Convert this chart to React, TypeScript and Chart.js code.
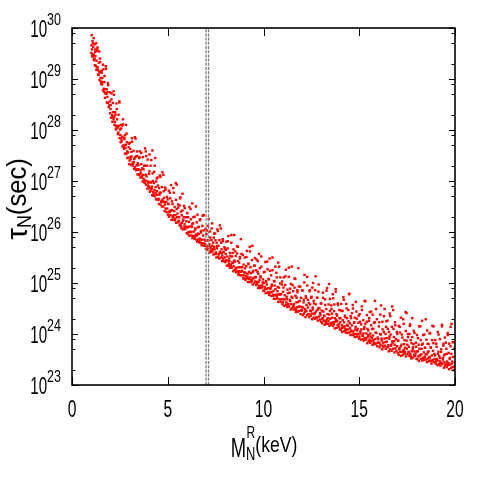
import React, { useEffect, useRef } from "react";
import { Chart, registerables } from "chart.js";

Chart.register(...registerables);

// ---- data: [M_N^R (keV), log10 tau_N (sec)] ----
const pointsSteep: [number, number][] = [
  [1.03,29.86],[1.07,29.74],[1.13,29.8],[1.18,29.68],[1.26,29.7],[1.33,29.62],[1.21,29.58],[1.46,29.4],
  [1.01,29.51],[1.04,29.58],[1.06,29.44],[1.09,29.45],[1.11,29.63],[1.14,29.37],[1.17,29.39],[1.19,29.27],[1.22,29.45],[1.24,29.26],
  [1.27,29.18],[1.29,29.55],[1.32,29.19],[1.34,29.23],[1.37,29.08],[1.39,29.09],[1.42,29.54],[1.44,28.98],[1.47,29.14],[1.49,29.02],
  [1.52,28.91],[1.54,29.16],[1.57,28.89],[1.59,28.94],[1.62,28.78],[1.64,29.19],[1.67,28.75],[1.69,28.94],[1.72,28.63],[1.74,28.72],
  [1.77,29.2],[1.79,28.71],[1.82,28.54],[1.84,28.74],[1.87,28.53],[1.89,28.88],[1.92,28.45],[1.94,28.48],[1.97,28.56],[1.99,28.33],
  [2.01,28.41],[2.04,28.24],[2.06,28.6],[2.09,28.25],[2.11,28.16],[2.14,28.35],[2.17,28.21],[2.19,28.69],[2.22,28.1],[2.24,28.16],
  [2.27,28.3],[2.29,28.01],[2.32,28.03],[2.34,28.41],[2.37,28.08],[2.39,27.92],[2.42,27.95],[2.44,28.08],[2.47,28.54],[2.49,27.84],
  [2.52,27.9],[2.54,27.76],[2.57,28.03],[2.59,27.78],[2.62,27.87],[2.64,27.68],[2.67,28.11],[2.69,27.7],[2.72,27.63],[2.74,27.82],
  [2.77,27.54],[2.79,27.65],[2.82,28.1],[2.84,27.53],[2.87,27.76],[2.89,27.45],[2.92,27.56],[2.94,27.46],[2.97,27.73],[2.99,27.33],
];

const pointsSteepUpper: [number, number][] = [
  [1.02,29.66],[1.06,29.48],[1.1,29.7],[1.13,29.48],[1.17,29.4],[1.21,29.53],[1.25,29.25],[1.28,29.36],[1.32,29.58],[1.36,29.17],
  [1.4,29.32],[1.43,29.14],[1.47,29.33],[1.51,28.95],[1.55,29.12],[1.58,29.02],[1.62,29.28],[1.66,28.81],[1.7,29.06],[1.73,28.8],
  [1.77,29.25],[1.81,28.8],[1.85,28.65],[1.88,28.92],[1.96,28.74],
  [2.02,28.49],[2.06,28.72],[2.1,28.29],[2.13,28.53],[2.17,28.76],[2.21,28.26],[2.25,28.35],[2.28,28.08],[2.32,28.52],[2.36,28.21],
  [2.4,28.05],[2.43,28.3],[2.47,28.56],[2.51,28.01],[2.55,28.1],[2.58,27.83],[2.62,28.09],[2.66,28.21],[2.7,27.66],[2.73,27.85],
  [2.77,27.9],[2.81,27.71],[2.85,27.93],[2.88,27.58],[2.96,27.66],
  [3.02,27.75],[3.06,27.47],[3.1,27.57],[3.13,27.84],[3.17,27.36],[3.21,27.59],[3.25,27.43],[3.28,27.86],[3.32,27.48],[3.36,27.23],
  [3.4,27.58],[3.43,27.35],[3.47,27.23],[3.51,27.45],[3.55,27.58],[3.58,27.21],[3.62,27.33],[3.66,27.1],[3.7,27.47],[3.73,27.23],
  [3.77,26.99],[3.81,27.3],[3.85,27.12],[3.88,27.49],[3.96,26.99],
  [4.02,27.14],[4.06,26.86],[4.1,27.3],[4.13,26.97],[4.17,26.89],[4.21,27.15],[4.25,26.74],[4.28,26.96],[4.32,27.3],[4.36,26.76],
  [4.4,26.99],[4.43,26.8],[4.47,27.07],[4.51,26.63],[4.55,26.86],[4.58,26.77],[4.62,27.08],[4.66,26.59],[4.7,26.88],[4.73,26.64],
  [4.77,27.12],[4.81,26.67],[4.85,26.54],[4.88,26.83],[4.96,26.69],
  [5.02,26.55],[5.06,26.81],[5.1,26.41],[5.13,26.66],[5.17,26.92],[5.21,26.43],[5.25,26.55],[5.28,26.29],[5.32,26.77],[5.36,26.49],
  [5.4,26.33],[5.43,26.63],[5.47,26.93],[5.51,26.36],[5.55,26.48],[5.58,26.22],[5.62,26.52],[5.66,26.68],[5.7,26.11],[5.73,26.33],
  [5.77,26.42],[5.81,26.24],[5.85,26.51],[5.88,26.15],[5.96,26.29],
  [6.02,26.37],[6.06,26.09],[6.1,26.2],[6.13,26.49],[6.17,26.0],[6.21,26.25],[6.25,26.1],[6.28,26.56],[6.32,26.17],[6.36,25.92],
  [6.4,26.3],[6.43,26.07],[6.47,25.95],[6.51,26.19],[6.55,26.34],[6.58,25.97],[6.62,26.1],[6.66,25.87],[6.7,26.25],[6.73,26.02],
  [6.77,25.78],[6.81,26.12],[6.85,25.93],[6.88,26.33],[6.96,25.83],
];

const pointsKnee: [number, number][] = [
  [3.85,27.58],[4.05,27.52],[4.2,27.6],[4.35,27.45],[3.95,27.42],
  [3.01,27.4],[3.04,27.63],[3.06,27.43],[3.09,27.32],[3.11,27.48],[3.14,27.77],[3.17,27.3],[3.19,27.34],[3.22,27.37],[3.24,27.24],
  [3.27,27.45],[3.29,27.27],[3.32,27.83],[3.34,27.21],[3.37,27.31],[3.39,27.49],[3.42,27.13],[3.44,27.22],[3.47,27.31],[3.49,27.12],
  [3.52,27.47],[3.54,27.13],[3.57,27.07],[3.59,27.16],[3.62,27.55],[3.64,27.07],[3.67,27.25],[3.69,26.99],[3.72,27.12],[3.74,27.04],
  [3.77,27.3],[3.79,26.96],[3.82,27.64],[3.84,27.01],[3.87,26.93],[3.89,27.09],[3.92,27.3],[3.94,26.85],[3.97,26.91],[3.99,26.96],
  [4.01,26.89],[4.04,27.19],[4.06,26.79],[4.09,26.98],[4.11,26.81],[4.14,27.41],[4.17,26.85],[4.19,26.72],[4.22,27.0],[4.24,26.79],
  [4.27,26.71],[4.29,27.18],[4.32,26.82],[4.34,26.7],[4.37,26.88],[4.39,26.64],[4.42,27.05],[4.44,26.73],[4.47,26.64],[4.49,26.91],
  [4.52,26.65],[4.54,26.55],[4.57,26.73],[4.59,27.11],[4.62,26.54],[4.64,26.77],[4.67,26.6],[4.69,26.5],[4.72,27.17],[4.74,26.6],
  [4.77,26.5],[4.79,26.8],[4.82,26.59],[4.84,26.41],[4.87,26.87],[4.89,26.46],[4.92,26.59],[4.94,26.39],[4.97,26.46],[4.99,26.64],
  [5.01,26.34],[5.04,26.55],[5.06,26.3],[5.09,26.39],[5.11,26.77],[5.14,26.33],[5.17,26.42],[5.19,26.24],[5.22,26.6],[5.24,26.31],
  [5.27,26.24],[5.29,26.86],[5.32,26.33],[5.34,26.41],[5.37,26.23],[5.39,26.26],[5.42,26.96],[5.44,26.18],[5.47,26.45],[5.49,26.29],
  [5.52,26.19],[5.54,26.54],[5.57,26.21],[5.59,26.29],[5.62,26.13],[5.64,26.66],[5.67,26.16],[5.69,26.4],[5.72,26.07],[5.74,26.18],
  [5.77,26.75],[5.79,26.22],[5.82,26.05],[5.84,26.29],[5.87,26.1],[5.89,26.47],[5.92,26.06],[5.94,26.1],[5.97,26.21],[5.99,25.98],
  [6.01,26.1],[6.04,25.97],[6.06,26.29],[6.09,26.0],[6.11,25.93],[6.14,26.11],[6.17,26.0],[6.19,26.45],[6.22,25.93],[6.24,26.0],
  [6.27,26.15],[6.29,25.88],[6.32,25.92],[6.34,26.29],[6.37,26.01],[6.39,25.87],[6.42,25.91],[6.44,26.05],[6.47,26.5],[6.49,25.85],
  [6.52,25.93],[6.54,25.81],[6.57,26.09],[6.59,25.85],[6.62,25.96],[6.64,25.8],[6.67,26.23],[6.69,25.85],[6.72,25.79],[6.74,25.99],
  [6.77,25.74],[6.79,25.85],[6.82,26.32],[6.84,25.78],[6.87,26.03],[6.89,25.73],[6.92,25.85],[6.94,25.77],[6.97,26.06],[6.99,25.67],
];

const pointsMid: [number, number][] = [
  [7.01,25.73],[7.04,26.03],[7.06,25.65],[7.09,25.84],[7.11,25.67],[7.14,26.26],[7.17,25.73],[7.19,25.6],[7.22,25.89],[7.24,25.69],
  [7.27,25.61],[7.29,26.07],[7.32,25.73],[7.34,25.62],[7.37,25.79],[7.39,25.56],[7.42,25.97],[7.44,25.66],[7.47,25.57],[7.49,25.84],
  [7.52,25.6],[7.54,25.5],[7.57,25.68],[7.59,26.05],[7.62,25.51],[7.64,25.73],[7.67,25.57],[7.69,25.48],[7.72,26.13],[7.74,25.59],
  [7.77,25.5],[7.79,25.79],[7.82,25.59],[7.84,25.43],[7.87,25.86],[7.89,25.48],[7.92,25.61],[7.94,25.43],[7.97,25.5],[7.99,25.67],
  [8.01,25.41],[8.04,25.65],[8.06,25.45],[8.09,25.34],[8.11,25.52],[8.14,25.82],[8.17,25.34],[8.19,25.38],[8.22,25.43],[8.24,25.3],
  [8.27,25.53],[8.29,25.34],[8.32,25.94],[8.34,25.3],[8.37,25.4],[8.39,25.59],[8.42,25.23],[8.44,25.33],[8.47,25.44],[8.49,25.25],
  [8.52,25.62],[8.54,25.28],[8.57,25.21],[8.59,25.3],[8.62,25.72],[8.64,25.23],[8.67,25.43],[8.69,25.16],[8.72,25.31],[8.74,25.23],
  [8.77,25.51],[8.79,25.15],[8.82,25.86],[8.84,25.22],[8.87,25.15],[8.89,25.31],[8.92,25.55],[8.94,25.09],[8.97,25.15],[8.99,25.21],
  [9.01,25.09],[9.04,25.29],[9.06,25.06],[9.09,25.14],[9.11,25.51],[9.14,25.09],[9.17,25.18],[9.19,25.02],[9.22,25.37],[9.24,25.08],
  [9.27,25.02],[9.29,25.62],[9.32,25.11],[9.34,25.19],[9.37,25.02],[9.39,25.06],[9.42,25.73],[9.44,24.97],[9.47,25.24],[9.49,25.1],
  [9.52,25.0],[9.54,25.34],[9.57,25.03],[9.59,25.11],[9.62,24.96],[9.64,25.46],[9.67,24.98],[9.69,25.22],[9.72,24.9],[9.74,25.02],
  [9.77,25.57],[9.79,25.06],[9.82,24.9],[9.84,25.13],[9.87,24.95],[9.89,25.32],[9.92,24.91],[9.94,24.95],[9.97,25.07],[9.99,24.85],
  [10.01,25.0],[10.04,24.85],[10.06,25.22],[10.09,24.89],[10.11,24.8],[10.14,25.02],[10.17,24.88],[10.19,25.42],[10.22,24.81],[10.24,24.9],
  [10.27,25.08],[10.29,24.77],[10.32,24.81],[10.34,25.24],[10.37,24.91],[10.39,24.75],[10.42,24.82],[10.44,24.97],[10.47,25.5],[10.49,24.75],
  [10.52,24.84],[10.54,24.69],[10.57,25.03],[10.59,24.76],[10.62,24.88],[10.64,24.69],[10.67,25.2],[10.69,24.75],[10.72,24.7],[10.74,24.92],
  [10.77,24.63],[10.79,24.78],[10.82,25.32],[10.84,24.68],[10.87,24.99],[10.89,24.63],[10.92,24.78],[10.94,24.68],[10.97,25.03],[10.99,24.58],
  [11.01,24.62],[11.04,24.91],[11.06,24.68],[11.09,24.55],[11.11,24.76],[11.14,25.13],[11.17,24.57],[11.19,24.62],[11.22,24.68],[11.24,24.53],
  [11.27,24.8],[11.29,24.58],[11.32,25.3],[11.34,24.54],[11.37,24.67],[11.39,24.89],[11.42,24.48],[11.44,24.59],[11.47,24.73],[11.49,24.51],
  [11.52,24.96],[11.54,24.54],[11.57,24.48],[11.59,24.59],[11.62,25.09],[11.64,24.5],[11.67,24.75],[11.69,24.43],[11.72,24.62],[11.74,24.52],
  [11.77,24.86],[11.79,24.44],[11.82,25.29],[11.84,24.53],[11.87,24.45],[11.89,24.65],[11.92,24.93],[11.94,24.39],[11.97,24.47],[11.99,24.53],
  [12.01,24.46],[12.04,24.85],[12.06,24.37],[12.09,24.62],[12.11,24.4],[12.14,25.16],[12.17,24.49],[12.19,24.33],[12.22,24.71],[12.24,24.45],
  [12.27,24.37],[12.29,24.95],[12.32,24.52],[12.34,24.39],[12.37,24.61],[12.39,24.33],[12.42,24.86],[12.44,24.46],[12.47,24.36],[12.49,24.71],
  [12.52,24.4],[12.54,24.29],[12.57,24.52],[12.59,25.0],[12.62,24.32],[12.64,24.6],[12.67,24.41],[12.69,24.3],[12.72,25.13],[12.74,24.44],
  [12.77,24.33],[12.79,24.71],[12.82,24.47],[12.84,24.26],[12.87,24.83],[12.89,24.34],[12.92,24.51],[12.94,24.28],[12.97,24.37],[12.99,24.6],
];

const pointsMidUpper: [number, number][] = [
  [7.02,25.96],[7.06,25.72],[7.1,26.12],[7.13,25.83],[7.17,25.76],[7.21,26.01],[7.25,25.64],[7.28,25.84],[7.32,26.17],[7.36,25.67],
  [7.4,25.89],[7.43,25.71],[7.47,25.97],[7.51,25.57],[7.55,25.79],[7.58,25.72],[7.62,26.02],[7.66,25.56],[7.7,25.84],[7.73,25.61],
  [7.77,26.07],[7.81,25.66],[7.85,25.54],[7.88,25.82],[7.96,25.7],
  [8.02,25.57],[8.06,25.81],[8.1,25.44],[8.13,25.68],[8.17,25.92],[8.21,25.48],[8.25,25.59],[8.28,25.36],[8.32,25.79],[8.36,25.52],
  [8.4,25.39],[8.43,25.66],[8.47,25.94],[8.51,25.42],[8.55,25.53],[8.58,25.29],[8.62,25.58],[8.66,25.71],[8.7,25.19],[8.73,25.4],
  [8.77,25.48],[8.81,25.31],[8.85,25.57],[8.88,25.24],[8.96,25.36],
  [9.02,25.5],[9.06,25.2],[9.1,25.33],[9.13,25.63],[9.17,25.12],[9.21,25.38],[9.25,25.22],[9.28,25.71],[9.32,25.31],[9.36,25.05],
  [9.4,25.45],[9.43,25.21],[9.47,25.09],[9.51,25.34],[9.55,25.49],[9.58,25.12],[9.62,25.25],[9.66,25.02],[9.7,25.43],[9.73,25.18],
  [9.77,24.94],[9.81,25.29],[9.85,25.11],[9.88,25.52],[9.96,25.01],
  [10.02,25.21],[10.06,24.92],[10.1,25.41],[10.13,25.04],[10.17,24.97],[10.21,25.27],[10.25,24.82],[10.28,25.07],[10.32,25.48],[10.36,24.88],
  [10.4,25.15],[10.43,24.94],[10.47,25.25],[10.51,24.77],[10.55,25.04],[10.58,24.95],[10.62,25.32],[10.66,24.77],[10.7,25.11],[10.73,24.84],
  [10.77,25.4],[10.81,24.91],[10.85,24.77],[10.88,25.11],[10.96,24.97],
  [11.02,24.83],[11.06,25.11],[11.1,24.68],[11.13,24.96],[11.17,25.26],[11.21,24.73],[11.25,24.87],[11.28,24.59],[11.32,25.12],[11.36,24.81],
  [11.4,24.65],[11.43,24.98],[11.47,25.32],[11.51,24.71],[11.55,24.84],[11.58,24.56],[11.62,24.91],[11.66,25.08],[11.7,24.47],[11.73,24.71],
  [11.77,24.82],[11.81,24.63],[11.85,24.93],[11.88,24.54],[11.96,24.71],
  [12.02,24.86],[12.06,24.52],[12.1,24.67],[12.13,25.01],[12.17,24.44],[12.21,24.74],[12.25,24.57],[12.28,25.12],[12.32,24.67],[12.36,24.39],
  [12.4,24.84],[12.43,24.58],[12.47,24.45],[12.51,24.73],[12.55,24.91],[12.58,24.48],[12.62,24.65],[12.66,24.39],[12.7,24.86],[12.73,24.58],
  [12.77,24.31],[12.81,24.71],[12.85,24.5],[12.88,24.97],[12.96,24.41],
];

const pointsTail: [number, number][] = [
  [13.01,24.24],[13.04,24.46],[13.06,24.21],[13.09,24.31],[13.11,24.71],[13.14,24.26],[13.17,24.35],[13.19,24.18],[13.22,24.57],[13.24,24.26],
  [13.27,24.2],[13.29,24.85],[13.32,24.29],[13.34,24.39],[13.37,24.2],[13.39,24.25],[13.42,24.98],[13.44,24.16],[13.47,24.45],[13.49,24.3],
  [13.52,24.19],[13.54,24.56],[13.57,24.22],[13.59,24.32],[13.62,24.16],[13.64,24.7],[13.67,24.19],[13.69,24.45],[13.72,24.11],[13.74,24.24],
  [13.77,24.83],[13.79,24.28],[13.82,24.12],[13.84,24.36],[13.87,24.18],[13.89,24.57],[13.92,24.14],[13.94,24.19],[13.97,24.31],[13.99,24.09],
  [14.01,24.23],[14.04,24.08],[14.06,24.46],[14.09,24.12],[14.11,24.04],[14.14,24.27],[14.17,24.13],[14.19,24.67],[14.22,24.06],[14.24,24.15],
  [14.27,24.33],[14.29,24.03],[14.32,24.08],[14.34,24.5],[14.37,24.18],[14.39,24.02],[14.42,24.09],[14.44,24.25],[14.47,24.78],[14.49,24.03],
  [14.52,24.12],[14.54,23.98],[14.57,24.31],[14.59,24.05],[14.62,24.17],[14.64,23.98],[14.67,24.5],[14.69,24.05],[14.72,24.0],[14.74,24.22],
  [14.77,23.94],[14.79,24.09],[14.82,24.63],[14.84,24.0],[14.87,24.3],[14.89,23.95],[14.92,24.1],[14.94,24.0],[14.97,24.36],[14.99,23.91],
  [15.01,23.95],[15.04,24.24],[15.06,24.01],[15.09,23.89],[15.11,24.09],[15.14,24.47],[15.17,23.9],[15.19,23.96],[15.22,24.01],[15.24,23.87],
  [15.27,24.14],[15.29,23.92],[15.32,24.64],[15.34,23.89],[15.37,24.01],[15.39,24.24],[15.42,23.82],[15.44,23.94],[15.47,24.07],[15.49,23.86],
  [15.52,24.31],[15.54,23.89],[15.57,23.83],[15.59,23.95],[15.62,24.44],[15.64,23.86],[15.67,24.1],[15.69,23.79],[15.72,23.97],[15.74,23.88],
  [15.77,24.22],[15.79,23.8],[15.82,24.65],[15.84,23.9],[15.87,23.81],[15.89,24.02],[15.92,24.29],[15.94,23.76],[15.97,23.83],[15.99,23.9],
  [16.01,23.83],[16.04,24.23],[16.06,23.74],[16.09,24.0],[16.11,23.78],[16.14,24.56],[16.17,23.87],[16.19,23.7],[16.22,24.09],[16.24,23.83],
  [16.27,23.74],[16.29,24.35],[16.32,23.91],[16.34,23.77],[16.37,24.0],[16.39,23.71],[16.42,24.25],[16.44,23.85],[16.47,23.74],[16.49,24.1],
  [16.52,23.78],[16.54,23.66],[16.57,23.91],[16.59,24.4],[16.62,23.7],[16.64,23.99],[16.67,23.79],[16.69,23.67],[16.72,24.54],[16.74,23.83],
  [16.77,23.71],[16.79,24.1],[16.82,23.86],[16.84,23.64],[16.87,24.23],[16.89,23.72],[16.92,23.9],[16.94,23.67],[16.97,23.76],[16.99,24.0],
  [17.01,23.63],[17.04,23.87],[17.06,23.59],[17.09,23.7],[17.11,24.14],[17.14,23.65],[17.17,23.76],[17.19,23.57],[17.22,23.99],[17.24,23.65],
  [17.27,23.59],[17.29,24.29],[17.32,23.69],[17.34,23.8],[17.37,23.61],[17.39,23.65],[17.42,24.43],[17.44,23.56],[17.47,23.87],[17.49,23.71],
  [17.52,23.6],[17.54,24.0],[17.57,23.64],[17.59,23.75],[17.62,23.57],[17.64,24.16],[17.67,23.61],[17.69,23.88],[17.72,23.52],[17.74,23.66],
  [17.77,24.31],[17.79,23.71],[17.82,23.54],[17.84,23.8],[17.87,23.59],[17.89,24.02],[17.92,23.57],[17.94,23.62],[17.97,23.75],[17.99,23.51],
  [18.01,23.66],[18.04,23.51],[18.06,23.92],[18.09,23.56],[18.11,23.47],[18.14,23.71],[18.17,23.58],[18.19,24.15],[18.22,23.51],[18.24,23.6],
  [18.27,23.79],[18.29,23.48],[18.32,23.53],[18.34,23.98],[18.37,23.64],[18.39,23.49],[18.42,23.55],[18.44,23.73],[18.47,24.29],[18.49,23.5],
  [18.52,23.6],[18.54,23.45],[18.57,23.81],[18.59,23.52],[18.62,23.66],[18.64,23.47],[18.67,24.01],[18.69,23.54],[18.72,23.48],[18.74,23.73],
  [18.77,23.42],[18.79,23.58],[18.82,24.16],[18.84,23.49],[18.87,23.82],[18.89,23.45],[18.92,23.61],[18.94,23.51],[18.97,23.88],[18.99,23.42],
  [19.01,23.46],[19.04,23.75],[19.06,23.51],[19.09,23.39],[19.11,23.61],[19.14,23.99],[19.17,23.41],[19.19,23.47],[19.22,23.53],[19.24,23.38],
  [19.27,23.65],[19.29,23.44],[19.32,24.18],[19.34,23.41],[19.37,23.53],[19.39,23.77],[19.42,23.34],[19.44,23.45],[19.47,23.6],[19.49,23.38],
  [19.52,23.83],[19.54,23.41],[19.57,23.35],[19.59,23.46],[19.62,23.98],[19.64,23.39],[19.67,23.63],[19.69,23.31],[19.72,23.51],[19.74,23.4],
  [19.77,23.76],[19.79,23.33],[19.82,24.2],[19.84,23.42],[19.87,23.35],[19.89,23.55],[19.92,23.84],[19.94,23.29],[19.97,23.36],[19.99,23.44],
];

const pointsTailUpper: [number, number][] = [
  [13.02,24.6],[13.06,24.3],[13.1,24.81],[13.13,24.44],[13.17,24.36],[13.21,24.68],[13.25,24.23],[13.28,24.49],[13.32,24.9],[13.36,24.31],
  [13.4,24.58],[13.43,24.38],[13.47,24.69],[13.51,24.21],[13.55,24.49],[13.58,24.4],[13.62,24.78],[13.66,24.23],[13.7,24.58],[13.73,24.31],
  [13.77,24.88],[13.81,24.39],[13.85,24.25],[13.88,24.6],[13.96,24.47],
  [14.02,24.31],[14.06,24.59],[14.1,24.17],[14.13,24.45],[14.17,24.72],[14.21,24.23],[14.25,24.36],[14.28,24.1],[14.32,24.59],[14.36,24.31],
  [14.4,24.16],[14.43,24.47],[14.47,24.79],[14.51,24.21],[14.55,24.35],[14.58,24.07],[14.62,24.41],[14.66,24.57],[14.7,23.98],[14.73,24.23],
  [14.77,24.32],[14.81,24.14],[14.85,24.44],[14.88,24.07],[14.96,24.22],
  [15.02,24.39],[15.06,24.05],[15.1,24.19],[15.13,24.54],[15.17,23.97],[15.21,24.27],[15.25,24.1],[15.28,24.65],[15.32,24.2],[15.36,23.91],
  [15.4,24.37],[15.43,24.1],[15.47,23.98],[15.51,24.26],[15.55,24.43],[15.58,24.01],[15.62,24.17],[15.66,23.92],[15.7,24.38],[15.73,24.1],
  [15.77,23.83],[15.81,24.23],[15.85,24.03],[15.88,24.49],[15.96,23.93],
  [16.02,24.15],[16.06,23.82],[16.1,24.38],[16.13,23.99],[16.17,23.91],[16.21,24.24],[16.25,23.77],[16.28,24.04],[16.32,24.49],[16.36,23.84],
  [16.4,24.14],[16.43,23.92],[16.47,24.26],[16.51,23.75],[16.55,24.04],[16.58,23.95],[16.62,24.35],[16.66,23.77],[16.7,24.14],[16.73,23.86],
  [16.77,24.47],[16.81,23.94],[16.85,23.79],[16.88,24.17],[16.96,24.04],
  [17.02,23.87],[17.06,24.16],[17.1,23.72],[17.13,24.03],[17.17,24.32],[17.21,23.79],[17.25,23.93],[17.28,23.65],[17.32,24.2],[17.36,23.88],
  [17.4,23.73],[17.43,24.06],[17.47,24.41],[17.51,23.79],[17.55,23.94],[17.58,23.65],[17.62,24.0],[17.66,24.19],[17.7,23.56],[17.73,23.82],
  [17.77,23.94],[17.81,23.74],[17.85,24.06],[17.88,23.66],[17.96,23.83],
  [18.02,23.98],[18.06,23.66],[18.1,23.79],[18.13,24.15],[18.17,23.58],[18.21,23.88],[18.25,23.71],[18.28,24.26],[18.32,23.81],[18.36,23.53],
  [18.4,23.99],[18.43,23.73],[18.47,23.6],[18.51,23.89],[18.55,24.07],[18.58,23.64],[18.62,23.8],[18.66,23.55],[18.7,24.02],[18.73,23.74],
  [18.77,23.47],[18.81,23.88],[18.85,23.67],[18.88,24.15],[18.96,23.58],
  [19.02,23.81],[19.06,23.48],[19.1,24.04],[19.13,23.65],[19.17,23.57],[19.21,23.9],[19.25,23.43],[19.28,23.7],[19.32,24.15],[19.36,23.5],
  [19.4,23.81],[19.43,23.58],[19.47,23.93],[19.51,23.41],[19.55,23.71],[19.58,23.61],[19.62,24.02],[19.66,23.43],[19.7,23.81],[19.73,23.53],
  [19.77,24.14],[19.81,23.61],[19.85,23.46],[19.88,23.84],[19.96,23.71],
];

const cutoffMassesKeV = [7.0, 7.13];
const xTicks = [0, 5, 10, 15, 20];
const yDecades = [23, 24, 25, 26, 27, 28, 29, 30];
const yMinorMantissas = [2, 5, 8];
const xRange = [0, 20];
const tauRange = [1e23, 1e30];

const FONT = '"Liberation Sans", Arial, Helvetica, sans-serif';

function drawCondensed(
  ctx: CanvasRenderingContext2D,
  text: string,
  x: number,
  y: number,
  size: number,
  sx: number,
  align: "left" | "center" | "right" = "left"
): number {
  ctx.save();
  ctx.font = `${size}px ${FONT}`;
  const w = ctx.measureText(text).width * sx;
  let left = x;
  if (align === "center") left = x - w / 2;
  if (align === "right") left = x - w;
  ctx.translate(left, y);
  ctx.scale(sx, 1);
  ctx.textAlign = "left";
  ctx.textBaseline = "alphabetic";
  ctx.fillStyle = "#000";
  ctx.fillText(text, 0, 0);
  ctx.restore();
  return w;
}

function measure(ctx: CanvasRenderingContext2D, text: string, size: number, sx: number) {
  ctx.save();
  ctx.font = `${size}px ${FONT}`;
  const w = ctx.measureText(text).width * sx;
  ctx.restore();
  return w;
}

const framePlugin = {
  id: "gnuplotFrame",
  afterDraw(chart: any) {
    const { ctx, chartArea } = chart;
    const xs = chart.scales.x;
    const ys = chart.scales.y;
    const { left, right, top, bottom } = chartArea;
    ctx.save();
    ctx.strokeStyle = "#000";
    ctx.lineWidth = 1;
    ctx.beginPath();
    for (const t of xTicks) {
      const px = Math.round(xs.getPixelForValue(t)) + 0.5;
      ctx.moveTo(px, bottom);
      ctx.lineTo(px, bottom - 8);
      ctx.moveTo(px, top);
      ctx.lineTo(px, top + 8);
    }
    for (const e of yDecades) {
      const py = Math.round(ys.getPixelForValue(Math.pow(10, e))) + 0.5;
      ctx.moveTo(left, py);
      ctx.lineTo(left + 6, py);
      ctx.moveTo(right, py);
      ctx.lineTo(right - 6, py);
      if (e < 30) {
        for (const m of yMinorMantissas) {
          const pm = Math.round(ys.getPixelForValue(m * Math.pow(10, e))) + 0.5;
          ctx.moveTo(left, pm);
          ctx.lineTo(left + 3.5, pm);
          ctx.moveTo(right, pm);
          ctx.lineTo(right - 3.5, pm);
        }
      }
    }
    ctx.stroke();
    ctx.lineWidth = 1.6;
    ctx.strokeRect(left, top, right - left, bottom - top);
    ctx.restore();

    for (const e of yDecades) {
      const py = ys.getPixelForValue(Math.pow(10, e));
      const expW = measure(ctx, String(e), 16, 0.78);
      const baseW = measure(ctx, "10", 23, 0.66);
      const rightEdge = left - 11;
      drawCondensed(ctx, String(e), rightEdge - expW, py - 3, 16, 0.78);
      drawCondensed(ctx, "10", rightEdge - expW - baseW, py + 9, 23, 0.66);
    }
    for (const t of xTicks) {
      const px = xs.getPixelForValue(t);
      drawCondensed(ctx, String(t), px, bottom + 32, 23, 0.68, "center");
    }

    {
      const sx = 0.68;
      const wM = measure(ctx, "M", 27, sx);
      const wN = measure(ctx, "N", 19, sx);
      const wRest = measure(ctx, "(keV)", 22, 0.8);
      const total = wM + wN + wRest;
      const cx = 264;
      const x0 = cx - total / 2;
      drawCondensed(ctx, "M", x0, bottom + 72, 27, sx);
      drawCondensed(ctx, "R", x0 + wM + 0.5, bottom + 53, 16, 0.75);
      drawCondensed(ctx, "N", x0 + wM, bottom + 75, 19, sx);
      drawCondensed(ctx, "(keV)", x0 + wM + wN, bottom + 67, 22, 0.8);
    }

    {
      ctx.save();
      ctx.translate(27, 199);
      ctx.rotate(-Math.PI / 2);
      const wT = measure(ctx, "\u03c4", 30, 1.0);
      const wN = measure(ctx, "N", 21, 0.85);
      const wRest = measure(ctx, "(sec)", 27, 0.95);
      const total = wT + wN + wRest;
      const x0 = -total / 2;
      drawCondensed(ctx, "\u03c4", x0, 0, 30, 1.0);
      drawCondensed(ctx, "N", x0 + wT, 4, 21, 0.85);
      drawCondensed(ctx, "(sec)", x0 + wT + wN, -1, 27, 0.95);
      ctx.restore();
    }
  },
};

export default function App() {
  const ref = useRef<HTMLCanvasElement | null>(null);
  useEffect(() => {
    if (!ref.current) return;
    const all = [
      ...pointsSteep,
      ...pointsSteepUpper,
      ...pointsKnee,
      ...pointsMid,
      ...pointsMidUpper,
      ...pointsTail,
      ...pointsTailUpper,
    ];
    const scatterData = all.map(([m, lt]) => ({ x: m, y: Math.pow(10, lt) }));
    const cutoffSets = cutoffMassesKeV.map((m) => ({
      type: "line" as const,
      data: [
        { x: m, y: tauRange[0] },
        { x: m, y: tauRange[1] },
      ],
      borderColor: "#7d7d7d",
      borderWidth: 1.3,
      borderDash: [3, 1.2],
      pointRadius: 0,
      showLine: true,
      fill: false,
    }));
    const chart = new Chart(ref.current, {
      type: "scatter",
      data: {
        datasets: [
          ...cutoffSets,
          {
            type: "scatter" as const,
            data: scatterData,
            backgroundColor: "#ff0000",
            borderWidth: 0,
            pointStyle: "rect",
            pointRadius: 1.7,
          },
        ] as any,
      },
      options: {
        responsive: false,
        animation: false,
        devicePixelRatio: 1,
        layout: { padding: { left: 72, top: 28, right: 30, bottom: 100 } },
        scales: {
          x: { type: "linear", min: xRange[0], max: xRange[1], display: false },
          y: { type: "logarithmic", min: tauRange[0], max: tauRange[1], display: false },
        },
        plugins: { legend: { display: false }, tooltip: { enabled: false } },
      },
      plugins: [framePlugin],
    });
    return () => chart.destroy();
  }, []);
  return (
    <div style={{ position: "absolute", left: 0, top: 0, width: 485, height: 485, background: "#fff" }}>
      <canvas ref={ref} width={485} height={485} />
    </div>
  );
}
